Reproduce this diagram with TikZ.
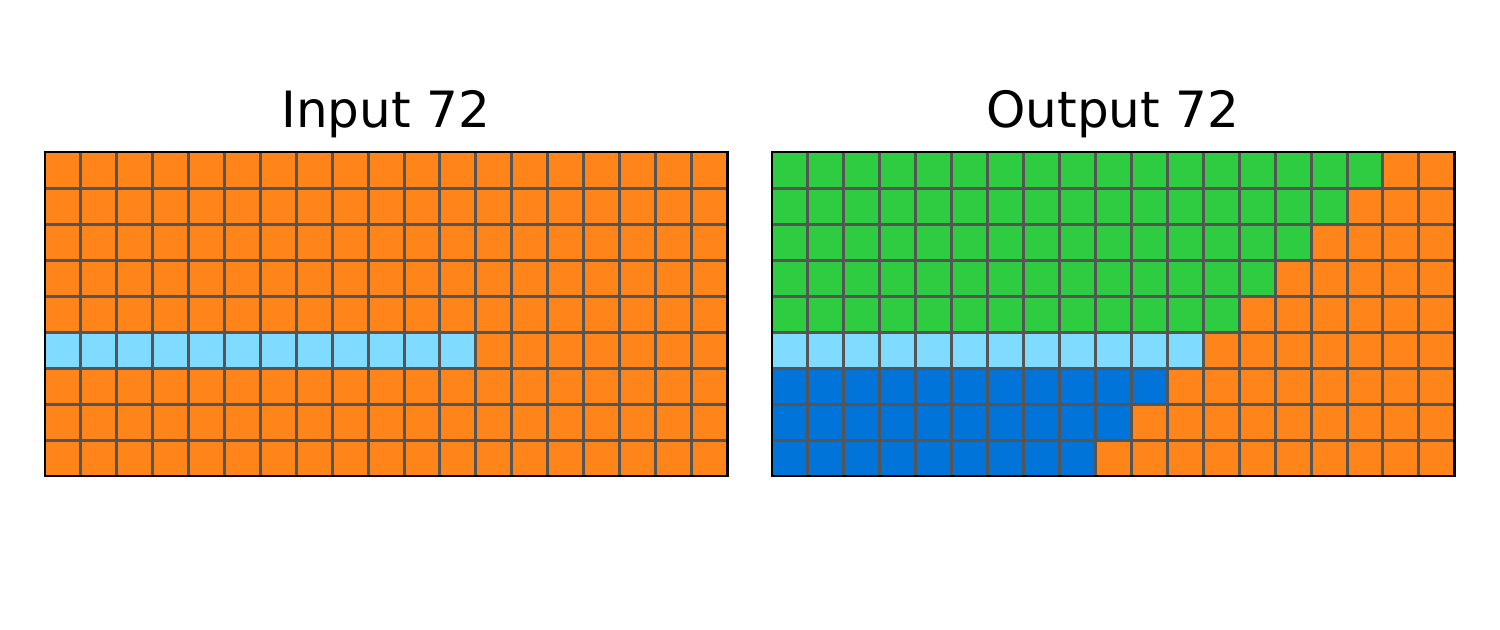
\documentclass[tikz,border=0pt]{standalone}
\usepackage{fontspec}
\setmainfont{DejaVu Sans}
\definecolor{arcorange}{HTML}{FF851B}
\definecolor{arcgreen}{HTML}{2ECC40}
\definecolor{arcblue}{HTML}{0074D9}
\definecolor{arclight}{HTML}{7FDBFF}
\definecolor{gridgray}{HTML}{555555}
\tikzset{
  gridline/.style={draw=gridgray, line width=1.5pt},
  gridborder/.style={draw=black, line width=1.4pt},
  title/.style={font=\fontsize{25}{29}\selectfont, anchor=base, inner sep=0pt},
}
\newcommand{\cellgrid}{%
  \foreach \c in {1,...,18} \draw[gridline] (\c,0) -- (\c,9);
  \foreach \r in {1,...,8} \draw[gridline] (0,\r) -- (19,\r);
  \draw[gridborder] (0,0) rectangle (19,9);
}
\begin{document}
\begin{tikzpicture}[x=0.5pt,y=-0.5pt]
\useasboundingbox (0,0) rectangle (1500,629);
\node[title] (tin) at (386,127) {Input 72};
\node[title] (tout) at (1113,127) {Output 72};
% input grid
\begin{scope}[shift={(45,152)}, x=17.95pt, y=-18pt]
  \fill[arcorange] (0,0) rectangle (19,9);
  \fill[arclight] (0,5) rectangle (12,6);
  \cellgrid
\end{scope}
% output grid
\begin{scope}[shift={(772,152)}, x=17.97pt, y=-18pt]
  \fill[arcorange] (0,0) rectangle (19,9);
  \foreach \r in {0,...,4} \fill[arcgreen] (0,\r) rectangle ({17-\r},\r+1);
  \fill[arclight] (0,5) rectangle (12,6);
  \foreach \r in {6,7,8} \fill[arcblue] (0,\r) rectangle ({17-\r},\r+1);
  \cellgrid
\end{scope}
\end{tikzpicture}
\end{document}
